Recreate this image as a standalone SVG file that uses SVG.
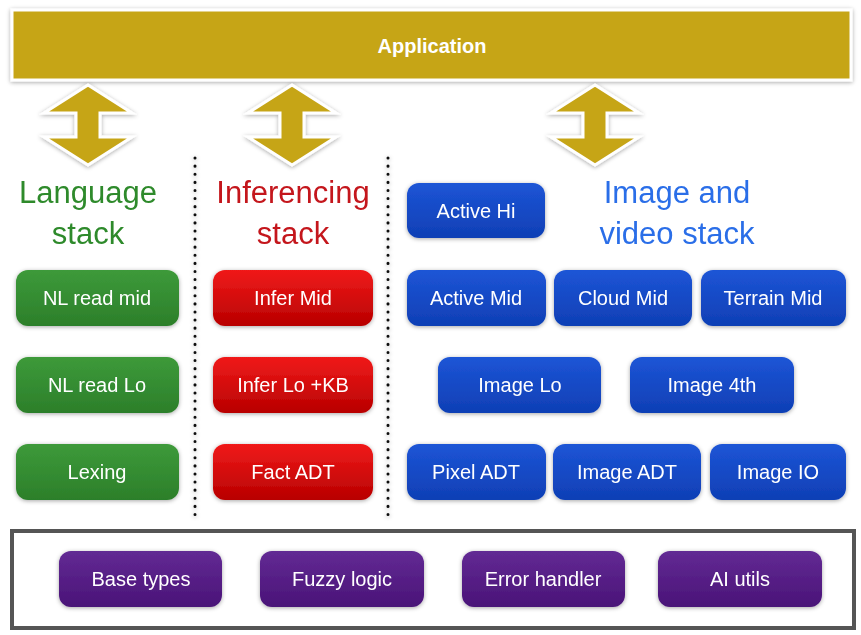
<svg xmlns="http://www.w3.org/2000/svg" width="861" height="635" viewBox="0 0 861 635">
<defs>
<linearGradient id="gG" x1="0" y1="0" x2="0" y2="1"><stop offset="0" stop-color="#3d9a3a"/><stop offset="1" stop-color="#2c7f2a"/></linearGradient>
<linearGradient id="gR" x1="0" y1="0" x2="0" y2="1"><stop offset="0" stop-color="#f01a1a"/><stop offset="1" stop-color="#b80000"/></linearGradient>
<linearGradient id="gB" x1="0" y1="0" x2="0" y2="1"><stop offset="0" stop-color="#1d55d6"/><stop offset="1" stop-color="#0f3fb5"/></linearGradient>
<linearGradient id="gP" x1="0" y1="0" x2="0" y2="1"><stop offset="0" stop-color="#622a94"/><stop offset="1" stop-color="#4a1378"/></linearGradient>
<filter id="sh" x="-20%" y="-20%" width="140%" height="140%"><feDropShadow dx="0" dy="1" stdDeviation="2" flood-color="#000" flood-opacity="0.35"/></filter>
<path id="arr" d="M0,-40 L44,-12 L12,-12 L12,12 L44,12 L0,40 L-44,12 L-12,12 L-12,-12 L-44,-12 Z"/>
</defs>
<style>
.t{font-family:"Liberation Sans",Arial,sans-serif;font-size:20px;fill:#fff;text-anchor:middle;dominant-baseline:central}
.h{font-family:"Liberation Sans",Arial,sans-serif;font-size:31px;text-anchor:middle}
.bx{filter:url(#sh)}
</style>
<rect width="861" height="635" fill="#fff"/>
<g id="application"><rect x="12" y="10" width="839" height="70" fill="#c6a519" stroke="#fff" stroke-width="3" filter="url(#sh)"/>
<text x="432" y="46" class="t" style="font-weight:bold">Application</text></g>
<g id="connectors" fill="#c6a519" stroke="#fff" stroke-width="3" filter="url(#sh)">
<use href="#arr" x="88" y="125"/><use href="#arr" x="292" y="125"/><use href="#arr" x="595" y="125"/>
<line x1="195" y1="158" x2="195" y2="515" stroke="#111" stroke-width="3" stroke-dasharray="0.1 8" stroke-linecap="round"/>
<line x1="388" y1="158" x2="388" y2="515" stroke="#111" stroke-width="3" stroke-dasharray="0.1 8" stroke-linecap="round"/>
</g>
<text class="h" x="88" y="203" fill="#2e8a2b">Language</text><text class="h" x="88" y="244" fill="#2e8a2b">stack</text>
<text class="h" x="293" y="203" fill="#c4161c">Inferencing</text><text class="h" x="293" y="244" fill="#c4161c">stack</text>
<text class="h" x="677" y="203" fill="#2a6ee8">Image and</text><text class="h" x="677" y="244" fill="#2a6ee8">video stack</text>
<g class="bx" id="nl-mid"><rect x="16" y="270" width="163" height="56" rx="12" fill="url(#gG)"/><text class="t" x="97" y="298">NL read mid</text></g>
<g class="bx" id="nl-lo"><rect x="16" y="357" width="163" height="56" rx="12" fill="url(#gG)"/><text class="t" x="97" y="385">NL read Lo</text></g>
<g class="bx" id="lexing"><rect x="16" y="444" width="163" height="56" rx="12" fill="url(#gG)"/><text class="t" x="97" y="472">Lexing</text></g>
<g class="bx" id="infer-mid"><rect x="213" y="270" width="160" height="56" rx="12" fill="url(#gR)"/><text class="t" x="293" y="298">Infer Mid</text></g>
<g class="bx" id="infer-lo"><rect x="213" y="357" width="160" height="56" rx="12" fill="url(#gR)"/><text class="t" x="293" y="385">Infer Lo +KB</text></g>
<g class="bx" id="fact-adt"><rect x="213" y="444" width="160" height="56" rx="12" fill="url(#gR)"/><text class="t" x="293" y="472">Fact ADT</text></g>
<g class="bx" id="active-hi"><rect x="407" y="183" width="138" height="55" rx="12" fill="url(#gB)"/><text class="t" x="476" y="211">Active Hi</text></g>
<g class="bx" id="active-mid"><rect x="407" y="270" width="139" height="56" rx="12" fill="url(#gB)"/><text class="t" x="476" y="298">Active Mid</text></g>
<g class="bx" id="cloud-mid"><rect x="554" y="270" width="138" height="56" rx="12" fill="url(#gB)"/><text class="t" x="623" y="298">Cloud Mid</text></g>
<g class="bx" id="terrain-mid"><rect x="701" y="270" width="145" height="56" rx="12" fill="url(#gB)"/><text class="t" x="773" y="298">Terrain Mid</text></g>
<g class="bx" id="image-lo"><rect x="438" y="357" width="163" height="56" rx="12" fill="url(#gB)"/><text class="t" x="520" y="385">Image Lo</text></g>
<g class="bx" id="image-4th"><rect x="630" y="357" width="164" height="56" rx="12" fill="url(#gB)"/><text class="t" x="712" y="385">Image 4th</text></g>
<g class="bx" id="pixel-adt"><rect x="407" y="444" width="139" height="56" rx="12" fill="url(#gB)"/><text class="t" x="476" y="472">Pixel ADT</text></g>
<g class="bx" id="image-adt"><rect x="553" y="444" width="148" height="56" rx="12" fill="url(#gB)"/><text class="t" x="627" y="472">Image ADT</text></g>
<g class="bx" id="image-io"><rect x="710" y="444" width="136" height="56" rx="12" fill="url(#gB)"/><text class="t" x="778" y="472">Image IO</text></g>
<g id="base-frame"><rect x="12" y="531" width="842" height="97" fill="none" stroke="#555" stroke-width="4"/></g>
<g class="bx" id="base-types"><rect x="59" y="551" width="163" height="56" rx="12" fill="url(#gP)"/><text class="t" x="141" y="579">Base types</text></g>
<g class="bx" id="fuzzy"><rect x="260" y="551" width="164" height="56" rx="12" fill="url(#gP)"/><text class="t" x="342" y="579">Fuzzy logic</text></g>
<g class="bx" id="error"><rect x="462" y="551" width="163" height="56" rx="12" fill="url(#gP)"/><text class="t" x="543" y="579">Error handler</text></g>
<g class="bx" id="ai-utils"><rect x="658" y="551" width="164" height="56" rx="12" fill="url(#gP)"/><text class="t" x="740" y="579">AI utils</text></g>
</svg>
